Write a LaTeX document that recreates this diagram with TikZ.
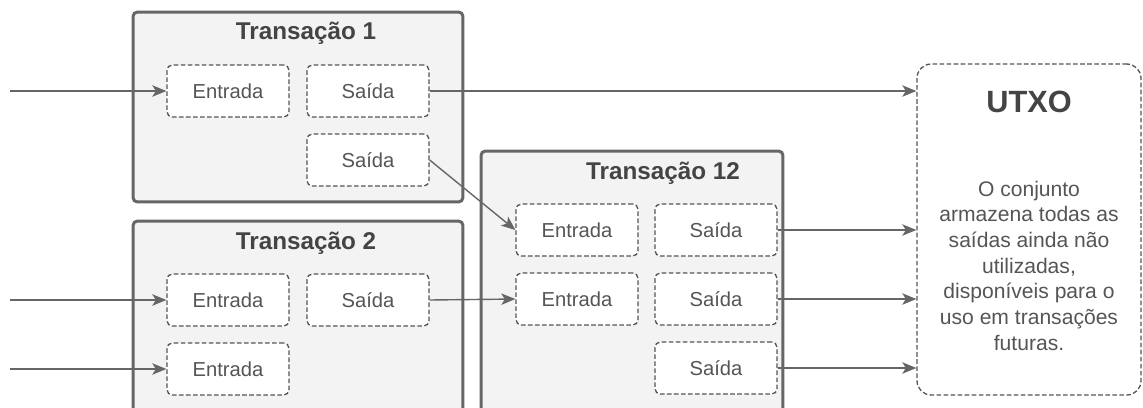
\documentclass[tikz,border=0pt]{standalone}
\usepackage{fontspec}
\setmainfont{Liberation Sans}
\usetikzlibrary{arrows.meta,positioning}
\definecolor{txline}{HTML}{666666}
\definecolor{txfill}{HTML}{F3F3F3}
\definecolor{txtext}{HTML}{555555}
\tikzset{/utxo/tx/.style={rectangle, draw=txline, line width=1.7pt, rounded corners=2.5pt, fill=txfill, inner sep=0pt
}}
\tikzset{/utxo/title/.style={text=txtext!80!black, font=\bfseries\fontsize{13.8}{16}\selectfont
}}
\tikzset{/utxo/io/.style={rectangle, draw=txtext, fill=white, line width=0.75pt, dash pattern=on 2.6pt off 1.4pt, rounded corners=3pt, minimum width=2.44cm, minimum height=1.04cm, text=txtext, font=\fontsize{11.5}{14}\selectfont
}}
\tikzset{/utxo/set/.style={rectangle, draw=txtext, line width=0.75pt, dash pattern=on 2.6pt off 1.4pt, rounded corners=8pt, minimum width=4.48cm, minimum height=6.62cm
}}
\tikzset{/utxo/flow/.style={draw=txline, line width=0.8pt, -{Stealth[length=8pt,width=6.5pt,inset=2pt]}
}}

\begin{document}
\begin{tikzpicture}[x=0.02cm, y=-0.02cm]
		\useasboundingbox (0,0) rectangle (1143,407);
		\clip (0,0) rectangle (1143,407);
		% transactions
		\node[/utxo/tx, minimum width=6.6cm, minimum height=3.8cm] (tx1) at (298,107) {};
		\node[/utxo/tx, minimum width=6.6cm, minimum height=4.4cm] (tx2) at (298,331) {};
		\node[/utxo/tx, minimum width=6.04cm, minimum height=5.6cm] (tx12) at (632,291) {};
		\node[/utxo/title] (t1) at (306,33) {Transação 1};
		\node[/utxo/title] (t2) at (306,243) {Transação 2};
		\node[/utxo/title] (t12) at (663,173) {Transação 12};
		% inputs and outputs
		\node[/utxo/io] (in11) at (228,91) {Entrada};
		\node[/utxo/io] (out11) at (368,91) {Saída};
		\node[/utxo/io] (out12) at (368,160) {Saída};
		\node[/utxo/io] (in21) at (228,300) {Entrada};
		\node[/utxo/io] (out21) at (368,300) {Saída};
		\node[/utxo/io] (in22) at (228,369) {Entrada};
		\node[/utxo/io] (in121) at (577,230) {Entrada};
		\node[/utxo/io] (out121) at (716,230) {Saída};
		\node[/utxo/io] (in122) at (577,299) {Entrada};
		\node[/utxo/io] (out122) at (716,299) {Saída};
		\node[/utxo/io] (out123) at (716,368) {Saída};
		% unspent set
		\node[/utxo/set] (utxo) at (1029,229.5) {};
		\node[text=txtext!80!black, font=\bfseries\fontsize{17.5}{20}\selectfont] (utxotitle) at (1029,102) {UTXO};
		\node[text=txtext, align=center, font=\fontsize{12}{14.6}\selectfont] (utxotext) at (1029,265.5) {O conjunto\\armazena todas as\\saídas ainda não\\utilizadas,\\disponíveis para o\\uso em transações\\futuras.};
		% connectors
		\coordinate (src1) at (10,91);
		\coordinate (src2) at (10,300);
		\coordinate (src3) at (10,369);
		\draw[/utxo/flow] (src1) -- (in11.west);
		\draw[/utxo/flow] (src2) -- (in21.west);
		\draw[/utxo/flow] (src3) -- (in22.west);
		\draw[/utxo/flow] (out11.east) -- (out11.east -| utxo.west);
		\draw[/utxo/flow] (out12.east) -- (in121.west);
		\draw[/utxo/flow] (out21.east) -- (in122.west);
		\draw[/utxo/flow] (out121.east) -- (out121.east -| utxo.west);
		\draw[/utxo/flow] (out122.east) -- (out122.east -| utxo.west);
		\draw[/utxo/flow] (out123.east) -- (out123.east -| utxo.west);
	\end{tikzpicture}
\end{document}
